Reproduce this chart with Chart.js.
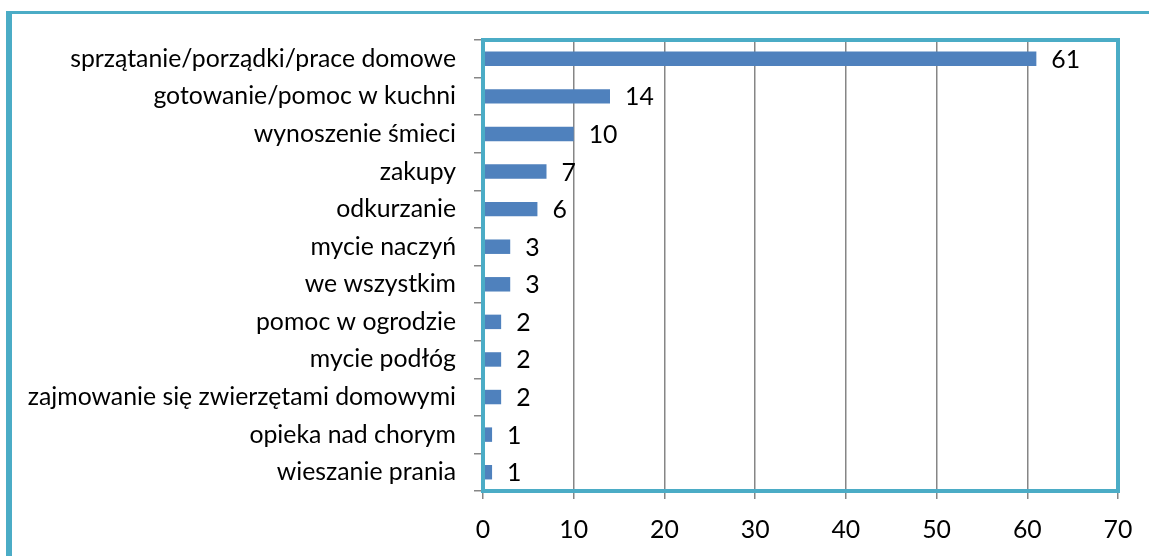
<!DOCTYPE html>
<html>
<head>
<meta charset="utf-8">
<script src="https://cdn.jsdelivr.net/npm/chart.js@4"></script>
<style>
html,body{margin:0;padding:0;background:#fff;}
#wrap{width:1149px;height:556px;position:relative;}
</style>
</head>
<body>
<div id="wrap"><canvas id="c" width="1149" height="556"></canvas></div>
<script>
const categories = [
  'sprzątanie/porządki/prace domowe',
  'gotowanie/pomoc w kuchni',
  'wynoszenie śmieci',
  'zakupy',
  'odkurzanie',
  'mycie naczyń',
  'we wszystkim',
  'pomoc w ogrodzie',
  'mycie podłóg',
  'zajmowanie się zwierzętami domowymi',
  'opieka nad chorym',
  'wieszanie prania'
];
const values = [61, 14, 10, 7, 6, 3, 3, 2, 2, 2, 1, 1];
const xTicks = [0, 10, 20, 30, 40, 50, 60, 70];

const TEAL = '#4bacc6';
const BAR = '#4f81bd';
const GRID = '#868686';
const FONT = 'Lato';

function build(fontSize) {
  const frame = {
    id: 'frame',
    beforeDraw(chart) {
      const ctx = chart.ctx;
      ctx.save();
      ctx.fillStyle = TEAL;
      ctx.fillRect(6, 11, 1149, 3);
      ctx.fillRect(6, 11, 6, 556);
      ctx.restore();
    },
    afterDatasetsDraw(chart) {
      const ctx = chart.ctx;
      const a = chart.chartArea;
      ctx.save();
      ctx.strokeStyle = TEAL;
      ctx.lineWidth = 4;
      ctx.strokeRect(a.left, a.top, a.right - a.left, a.bottom - a.top);
      // data labels
      ctx.fillStyle = '#000';
      ctx.font = fontSize + 'px ' + FONT;
      ctx.textAlign = 'left';
      ctx.textBaseline = 'middle';
      const meta = chart.getDatasetMeta(0);
      meta.data.forEach((bar, i) => {
        ctx.fillText(String(values[i]), bar.x + 15, bar.y + 1);
      });
      ctx.restore();
    }
  };

  new Chart(document.getElementById('c'), {
    type: 'bar',
    data: {
      labels: categories,
      datasets: [{
        data: values,
        backgroundColor: BAR,
        borderWidth: 0,
        barPercentage: 0.385,
        categoryPercentage: 1
      }]
    },
    options: {
      indexAxis: 'y',
      responsive: false,
      animation: false,
      devicePixelRatio: 1,
      layout: { padding: { top: 40, right: 31, left: 0, bottom: 0 } },
      plugins: { legend: { display: false }, tooltip: { enabled: false } },
      scales: {
        x: {
          min: 0, max: 70,
          afterBuildTicks(s) { s.ticks = xTicks.map(v => ({ value: v })); },
          afterFit(s) { s.height = 556 - 491; },
          grid: { color: GRID, lineWidth: 1.5, drawTicks: true, tickLength: 8, tickColor: GRID },
          border: { color: GRID, width: 1.5 },
          ticks: { color: '#000', font: { family: FONT, size: fontSize }, padding: 16, maxRotation: 0 }
        },
        y: {
          afterFit(s) { s.width = 483; },
          grid: { drawOnChartArea: false, drawTicks: true, tickLength: 9, color: GRID, lineWidth: 1.5, offset: true },
          border: { color: GRID, width: 1.5 },
          ticks: { color: '#000', font: { family: FONT, size: fontSize }, padding: 18, autoSkip: false }
        }
      }
    },
    plugins: [frame]
  });
}

document.fonts.load('24px ' + FONT).then(() => {
  const ctx = document.createElement('canvas').getContext('2d');
  ctx.font = '100px ' + FONT;
  const w = ctx.measureText('zajmowanie się zwierzętami domowymi').width;
  const size = Math.round(429 / w * 100 * 10) / 10;
  build(size);
}).catch(() => build(23));
</script>
</body>
</html>
